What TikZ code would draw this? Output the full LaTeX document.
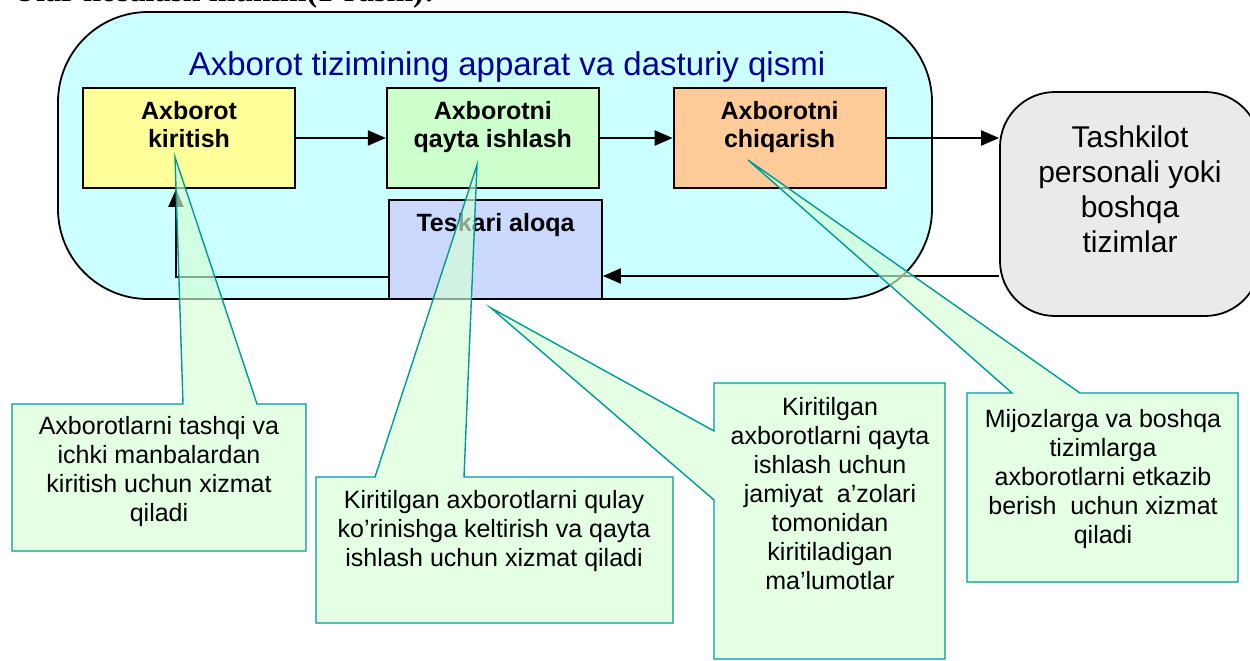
\documentclass[tikz,border=0pt]{standalone}
\usepackage{fontspec}
\setmainfont{Liberation Sans}
\newfontfamily\pageserif{Liberation Serif}
\usetikzlibrary{arrows.meta,calc,positioning}

\definecolor{sysfill}{RGB}{204,255,255}
\definecolor{titleblue}{RGB}{0,0,153}
\definecolor{infill}{RGB}{255,255,153}
\definecolor{procfill}{RGB}{204,255,204}
\definecolor{outfill}{RGB}{255,204,153}
\definecolor{backfill}{RGB}{204,217,255}
\definecolor{orgfill}{RGB}{234,234,234}
\definecolor{notefill}{RGB}{213,255,213}
\definecolor{noteline}{RGB}{0,153,153}

\tikzset{
  block/.style={draw, line width=1.8pt, minimum width=212, minimum height=100, inner sep=0pt, align=center, font=\fontsize{25}{28}\selectfont\bfseries},
  flow/.style={line width=2.2pt, -{Triangle[length=18pt,width=15pt]}},
  note/.style={draw=noteline, line width=1.4pt, fill=notefill, fill opacity=0.65},
  notetext/.style={inner sep=0pt, align=center, font=\fontsize{25}{29}\selectfont},
}

\begin{document}
\begin{tikzpicture}[x=1pt,y=-1pt]
  \useasboundingbox (0,0) rectangle (1250,661);

  \node[anchor=base west, inner sep=0pt, font=\pageserif\bfseries\fontsize{32}{32}\selectfont] (pagetext) at (13,2) {Ular hosalash muhim(1-rasm):};

  % apparat va dasturiy qism
  \node[draw, line width=1.8pt, fill=sysfill, rounded corners=90pt, minimum width=874, minimum height=287] (system) at (495,155.5) {};
  \node[anchor=base, inner sep=0pt, text=titleblue, font=\fontsize{33}{36}\selectfont] (title) at (507,76) {Axborot tizimining apparat va dasturiy qismi};

  \node[block, fill=infill] (input) at (189,138) {Axborot\\kiritish\\[-10pt]\strut};
  \node[block, fill=procfill, right=90pt of input] (process) {Axborotni\\qayta ishlash\\[-10pt]\strut};
  \node[block, fill=outfill, right=73pt of process] (output) {Axborotni\\chiqarish\\[-10pt]\strut};
  \node[block, fill=backfill, minimum width=213, minimum height=99] (feedback) at (495.5,249.5) {Teskari aloqa\\[17pt]\strut};

  % tashqi muhit
  \node[draw, line width=1.8pt, fill=orgfill, rounded corners=55pt, minimum width=260, minimum height=224, align=center, font=\fontsize{30}{35}\selectfont] (people) at (1130,204) {Tashkilot\\personali yoki\\boshqa\\tizimlar\\[-15pt]\strut};

  \draw[flow] (input) -- (process);
  \draw[flow] (process) -- (output);
  \draw[flow] (output.east) -- (output.east -| people.west);
  \draw[flow] ([yshift=-72pt]people.west) -- ([yshift=-72pt]people.west -| feedback.east);
  \draw[flow] ([yshift=-27.5pt]feedback.west) -| ([xshift=-13pt]input.south);

  % izohlar
  \coordinate (tipIn) at (175,157);
  \coordinate (tipProc) at (477,165);
  \coordinate (tipBack) at (491,308);
  \coordinate (tipOut) at (748,160);

  \draw[note] (12,404) -- (183,404) -- (tipIn) -- (257,404) -- (306,404) -- (306,551) -- (12,551) -- cycle;
  \node[notetext, anchor=north] (noteIn) at (159,416) {Axborotlarni tashqi va\\ichki manbalardan\\kiritish uchun xizmat\\qiladi};

  \draw[note] (316,477) -- (375,477) -- (tipProc) -- (464,477) -- (673,477) -- (673,623) -- (316,623) -- cycle;
  \node[notetext, anchor=north] (noteProc) at (494,490) {Kiritilgan axborotlarni qulay\\ko’rinishga keltirish va qayta\\ishlash uchun xizmat qiladi};

  \draw[note] (714,383) -- (945,383) -- (945,659) -- (714,659) -- (714,500) -- (tipBack) -- (714,431) -- cycle;
  \node[notetext, anchor=north] (noteBack) at (830,397) {Kiritilgan\\axborotlarni qayta\\ishlash uchun\\jamiyat\ \ a’zolari\\tomonidan\\kiritiladigan\\ma’lumotlar};

  \draw[note] (967,393) -- (1012,393) -- (tipOut) -- (1080,393) -- (1238,393) -- (1238,582) -- (967,582) -- cycle;
  \node[notetext, anchor=north] (noteOut) at (1103,409) {Mijozlarga va boshqa\\tizimlarga\\axborotlarni etkazib\\berish\ \ uchun xizmat\\qiladi};
\end{tikzpicture}
\end{document}
